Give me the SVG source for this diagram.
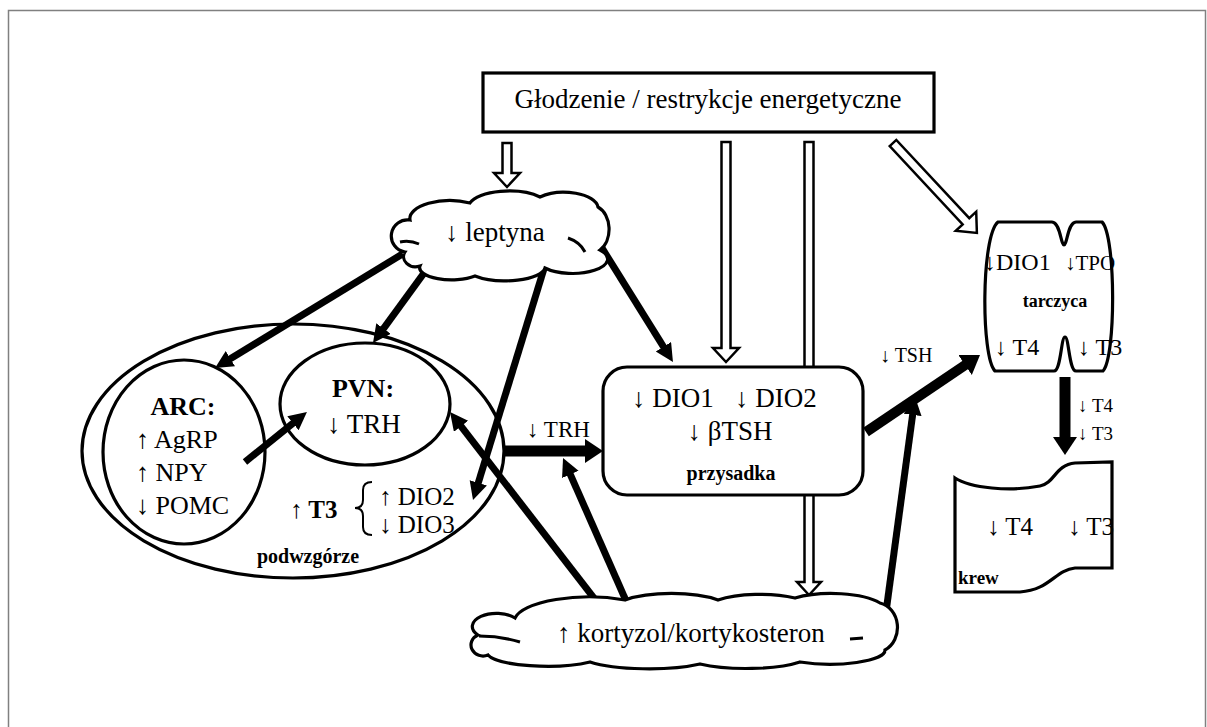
<svg xmlns="http://www.w3.org/2000/svg" width="1207" height="727" viewBox="0 0 1207 727">
<style>
.t{font-family:"Liberation Serif","Times New Roman",serif;fill:#000}
.b{font-weight:bold}
.ln{fill:none;stroke:#000;stroke-width:3.2}
.nd{fill:#fff;stroke:#000;stroke-width:3.2}
.ho{fill:#fff;stroke:#000;stroke-width:2.5;stroke-linejoin:miter}
.th{fill:none;stroke:#000;stroke-width:7;marker-end:url(#ah)}
.tb{fill:none;stroke:#000;stroke-width:11;marker-end:url(#ahb)}
</style>
<defs>
<marker id="ah" markerUnits="userSpaceOnUse" markerWidth="20" markerHeight="20" refX="2" refY="9" orient="auto"><path d="M0,0 L18,9 L0,18 Z" fill="#000"/></marker>
<marker id="ahb" markerUnits="userSpaceOnUse" markerWidth="26" markerHeight="26" refX="4" refY="12" orient="auto"><path d="M0,0 L18,12 L0,24 Z" fill="#000"/></marker>
</defs>
<rect x="8.5" y="10.5" width="1197" height="730" fill="#fff" stroke="#808080" stroke-width="1.5"/>

<g id="connectors">
<polygon class="ho" points="502.5,143 511.5,143 511.5,173 520,173 507,187 494,173 502.5,173"/>
<polygon class="ho" points="721.5,142 730.5,142 730.5,348 739,348 726,362 713,348 721.5,348"/>
<polygon class="ho" points="804.5,142 813.5,142 813.5,582 821,582 809,595 797,582 804.5,582"/>
<polygon class="ho" transform="translate(893,143) rotate(-43)" points="-4.5,0 4.5,0 4.5,107 14,107 0,123 -14,107 -4.5,107"/>
<line class="th" x1="402.8" y1="253.8" x2="228.7" y2="359.7"/>
<line class="th" x1="435.5" y1="257.2" x2="382.4" y2="330.1"/>
<line class="th" x1="544.5" y1="267" x2="477.7" y2="484.7"/>
<line class="th" x1="598.8" y1="242.9" x2="664.5" y2="348.4"/>
<line class="th" x1="245" y1="462" x2="294.5" y2="422"/>
<line class="th" x1="599.4" y1="605.2" x2="459.8" y2="424.7"/>
<line class="th" x1="628.6" y1="606.7" x2="569.5" y2="472.6"/>
<line class="th" x1="886" y1="612" x2="912.9" y2="412.9"/>
<line class="tb" x1="505" y1="451" x2="589" y2="451"/>
<line class="tb" style="stroke-width:10" x1="866" y1="432" x2="968.4" y2="362.8"/>
<line class="tb" x1="1065" y1="377" x2="1065" y2="441"/>
</g>

<g id="glodzenie">
<rect class="nd" x="483" y="73" width="451" height="59"/>
<text class="t" x="708" y="108" font-size="27" text-anchor="middle">Głodzenie / restrykcje energetyczne</text>
</g>

<g id="podwzgorze">
<ellipse class="ln" cx="293" cy="451" rx="211" ry="127"/>
<text class="t b" x="308" y="563" font-size="20" text-anchor="middle">podwzgórze</text>
</g>

<g id="arc">
<ellipse class="ln" cx="184" cy="452" rx="81" ry="92"/>
<text class="t b" x="183" y="415" font-size="26" text-anchor="middle">ARC:</text>
<text class="t" x="136" y="448" font-size="26">↑ AgRP</text>
<text class="t" x="136" y="481" font-size="26">↑ NPY</text>
<text class="t" x="136" y="514" font-size="26">↓ POMC</text>
</g>

<g id="pvn">
<ellipse class="ln" cx="365" cy="404" rx="85" ry="61"/>
<text class="t b" x="363" y="397" font-size="26" text-anchor="middle">PVN:</text>
<text class="t" x="364" y="433" font-size="27" text-anchor="middle">↓ TRH</text>
</g>

<g id="t3">
<text class="t b" x="290" y="518" font-size="25">↑ T3</text>
<path d="M372,482 Q363,482 363,490 L363,500 Q363,508 355,508 Q363,508 363,516 L363,527 Q363,535 372,535" fill="none" stroke="#000" stroke-width="2"/>
<text class="t" x="379" y="505" font-size="25">↑ DIO2</text>
<text class="t" x="379" y="533" font-size="25">↓ DIO3</text>
</g>

<g id="przysadka">
<rect class="nd" x="603" y="367" width="260" height="128" rx="24" ry="24"/>
<text class="t" x="632" y="407" font-size="27">↓ DIO1</text>
<text class="t" x="735" y="407" font-size="27">↓ DIO2</text>
<text class="t" x="730" y="440" font-size="27" text-anchor="middle">↓ βTSH</text>
<text class="t b" x="731" y="480" font-size="20" text-anchor="middle">przysadka</text>
</g>

<g id="trh-label">
<text class="t" x="527" y="437" font-size="23">↓ TRH</text>
</g>
<g id="tsh-label">
<text class="t" x="880" y="362" font-size="20">↓ TSH</text>
</g>
<g id="t4t3-label">
<text class="t" x="1078" y="412" font-size="19">↓ T4</text>
<text class="t" x="1078" y="440" font-size="19">↓ T3</text>
</g>

<g id="tarczyca">
<path class="nd" d="M998,222 L1052,222 C1060,222 1061,245 1064,245 C1067,245 1068,222 1076,222 L1102,222 C1116,236 1116,357 1103,371 L1076,371 C1069,371 1069,337 1065,337 C1061,337 1061,371 1054,371 L995,371 C981,357 981,236 998,222 Z"/>
<text class="t" x="984" y="270" font-size="24">↓DIO1</text>
<text class="t" x="1065" y="270" font-size="21">↓TPO</text>
<text class="t b" x="1055" y="307" font-size="18" text-anchor="middle">tarczyca</text>
<text class="t" x="995" y="355" font-size="24">↓ T4</text>
<text class="t" x="1078" y="355" font-size="24">↓ T3</text>
</g>

<g id="krew">
<path class="nd" d="M955,478 C970,488 1010,492 1040,486 C1055,483 1055,465 1075,463 L1112,462 L1112,568 L1075,568 C1055,570 1050,590 1020,592 L955,592 Z"/>
<text class="t" x="987" y="535" font-size="25">↓ T4</text>
<text class="t" x="1068" y="535" font-size="25">↓ T3</text>
<text class="t b" x="958" y="584" font-size="19">krew</text>
</g>

<g id="leptyna">
<path class="nd" d="M405,252 A16,16 0 0,1 410,220 A40,18 0 0,1 470,203 A40,16 0 0,1 540,197 A34,16 0 0,1 598,207 A18,24 0 0,1 600,250 A34,14 0 0,1 545,268 A40,14 0 0,1 475,276 A32,12 0 0,1 420,266 A12,10 0 0,1 405,252 Z"/>
<path d="M400,242 Q410,240 419,244 M568,238 Q580,242 585,252" fill="none" stroke="#000" stroke-width="3"/>
<text class="t" x="445" y="241" font-size="27">↓ leptyna</text>
</g>

<g id="kortyzol">
<path class="nd" d="M488,655 A12,11 0 0,1 478,635 A22,12 0 0,1 515,618 A75,25 0 0,1 625,600 A60,18 0 0,1 718,600 A55,16 0 0,1 795,598 A55,18 0 0,1 880,603 A22,25 0 0,1 885,650 A55,14 0 0,1 800,662 A65,15 0 0,1 700,664 A70,15 0 0,1 590,662 A60,14 0 0,1 488,655 Z"/>
<path d="M479,636 Q500,636 520,642 M850,639 L863,638" fill="none" stroke="#000" stroke-width="3"/>
<text class="t" x="557" y="642" font-size="27">↑ kortyzol/kortykosteron</text>
</g>
</svg>
